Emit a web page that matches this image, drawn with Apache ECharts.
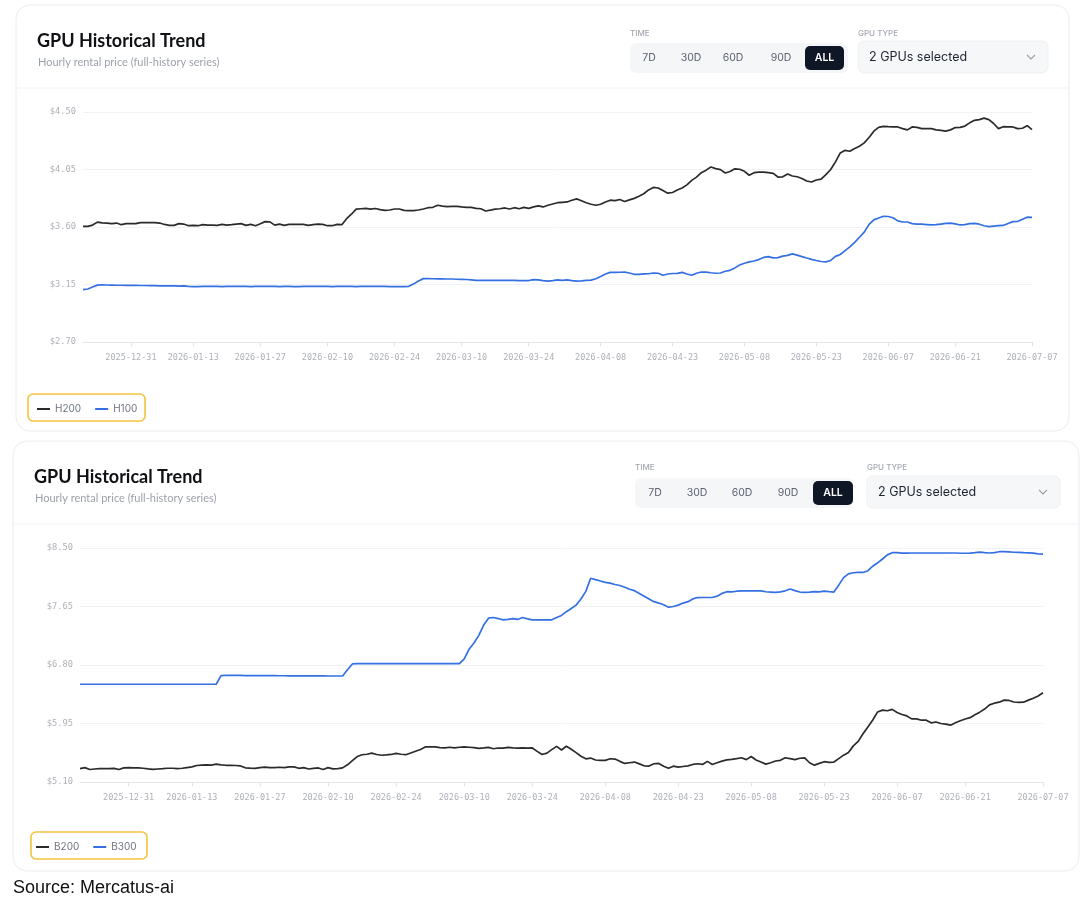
<!DOCTYPE html>
<html><head><meta charset="utf-8">
<script src="https://cdn.jsdelivr.net/npm/echarts@6/dist/echarts.min.js"></script>
<style>html,body{margin:0;padding:0;background:#fff}#c{width:1080px;height:908px}</style>
</head><body><div id="c"></div>
<script>
// ---------- data ----------
const startDate = [2025, 11, 21];   // 2025-12-21 (month is 0-based)
const dayCount = 199;               // daily points up to 2026-07-07
const tickLabels = ['2025-12-31','2026-01-13','2026-01-27','2026-02-10','2026-02-24','2026-03-10','2026-03-24',
  '2026-04-08','2026-04-23','2026-05-08','2026-05-23','2026-06-07','2026-06-21','2026-07-07'];
const seriesTop = ['H200', 'H100'];
const seriesBottom = ['B200', 'B300'];

const h200 = [
  3.605,3.605,3.615,3.638,3.632,3.631,3.626,3.631,3.618,3.626,
  3.626,3.626,3.634,3.634,3.634,3.634,3.631,3.620,3.613,3.613,
  3.626,3.623,3.610,3.613,3.610,3.618,3.615,3.615,3.613,3.620,
  3.615,3.618,3.623,3.626,3.613,3.620,3.610,3.626,3.642,3.640,
  3.615,3.623,3.613,3.620,3.620,3.620,3.620,3.613,3.618,3.623,
  3.620,3.610,3.610,3.620,3.618,3.665,3.700,3.740,3.743,3.746,
  3.740,3.745,3.736,3.730,3.733,3.741,3.741,3.730,3.728,3.728,
  3.733,3.741,3.751,3.754,3.770,3.764,3.759,3.762,3.762,3.757,
  3.754,3.754,3.746,3.743,3.725,3.732,3.740,3.743,3.749,3.741,
  3.751,3.743,3.754,3.746,3.757,3.765,3.757,3.770,3.780,3.790,
  3.793,3.796,3.809,3.820,3.806,3.790,3.778,3.770,3.778,3.795,
  3.810,3.806,3.815,3.800,3.812,3.824,3.840,3.860,3.890,3.910,
  3.905,3.885,3.865,3.870,3.890,3.905,3.930,3.965,3.990,4.025,
  4.045,4.070,4.057,4.049,4.023,4.034,4.055,4.052,4.036,4.005,
  4.025,4.030,4.030,4.025,4.020,3.991,3.993,4.015,3.999,3.993,
  3.980,3.960,3.952,3.968,3.974,4.010,4.050,4.110,4.180,4.200,
  4.193,4.215,4.232,4.258,4.300,4.350,4.380,4.388,4.385,4.383,
  4.383,4.370,4.360,4.383,4.380,4.370,4.370,4.370,4.360,4.356,
  4.350,4.360,4.378,4.380,4.390,4.415,4.435,4.440,4.452,4.440,
  4.410,4.370,4.385,4.383,4.383,4.370,4.373,4.393,4.362
];
const h100 = [
  3.110,3.115,3.130,3.145,3.147,3.146,3.145,3.144,3.144,3.143,
  3.143,3.143,3.142,3.142,3.141,3.141,3.140,3.140,3.139,3.139,
  3.138,3.139,3.136,3.134,3.134,3.135,3.135,3.136,3.135,3.134,
  3.135,3.135,3.136,3.135,3.135,3.134,3.135,3.136,3.136,3.135,
  3.135,3.134,3.135,3.135,3.134,3.134,3.135,3.135,3.136,3.136,
  3.135,3.135,3.134,3.135,3.136,3.135,3.136,3.134,3.135,3.136,
  3.135,3.136,3.135,3.135,3.134,3.134,3.134,3.134,3.136,3.155,
  3.178,3.196,3.196,3.195,3.194,3.194,3.193,3.193,3.191,3.190,
  3.189,3.186,3.183,3.182,3.182,3.182,3.182,3.182,3.182,3.182,
  3.182,3.181,3.181,3.181,3.188,3.186,3.180,3.176,3.180,3.186,
  3.183,3.186,3.180,3.176,3.178,3.182,3.184,3.195,3.212,3.232,
  3.245,3.245,3.246,3.247,3.240,3.230,3.230,3.233,3.234,3.240,
  3.238,3.222,3.232,3.236,3.237,3.245,3.232,3.222,3.238,3.248,
  3.247,3.242,3.238,3.240,3.254,3.261,3.280,3.302,3.316,3.327,
  3.334,3.345,3.362,3.368,3.358,3.360,3.372,3.378,3.390,3.380,
  3.368,3.357,3.347,3.338,3.330,3.327,3.338,3.370,3.385,3.415,
  3.445,3.480,3.520,3.560,3.620,3.656,3.670,3.684,3.682,3.672,
  3.648,3.639,3.639,3.626,3.623,3.622,3.619,3.616,3.618,3.623,
  3.628,3.631,3.625,3.616,3.618,3.627,3.628,3.622,3.610,3.603,
  3.607,3.610,3.612,3.628,3.642,3.643,3.660,3.677,3.675
];
const b200 = [
  5.294,5.309,5.282,5.289,5.294,5.294,5.294,5.299,5.282,5.305,
  5.309,5.305,5.304,5.300,5.290,5.283,5.289,5.294,5.300,5.300,
  5.295,5.300,5.310,5.319,5.340,5.345,5.350,5.345,5.360,5.350,
  5.343,5.343,5.340,5.333,5.306,5.302,5.299,5.309,5.315,5.309,
  5.309,5.314,5.309,5.319,5.319,5.299,5.309,5.289,5.299,5.304,
  5.282,5.309,5.291,5.294,5.305,5.350,5.410,5.470,5.496,5.503,
  5.520,5.500,5.489,5.493,5.500,5.515,5.503,5.497,5.522,5.547,
  5.572,5.610,5.610,5.610,5.600,5.595,5.605,5.595,5.605,5.610,
  5.605,5.600,5.588,5.595,5.603,5.583,5.594,5.591,5.603,5.597,
  5.593,5.595,5.591,5.595,5.545,5.500,5.520,5.570,5.618,5.565,
  5.620,5.575,5.527,5.475,5.437,5.448,5.420,5.413,5.415,5.438,
  5.433,5.400,5.370,5.380,5.390,5.363,5.335,5.332,5.365,5.370,
  5.330,5.300,5.330,5.315,5.325,5.335,5.355,5.365,5.355,5.400,
  5.355,5.380,5.404,5.422,5.430,5.440,5.452,5.425,5.470,5.420,
  5.390,5.360,5.380,5.405,5.415,5.452,5.440,5.425,5.445,5.450,
  5.380,5.345,5.370,5.395,5.385,5.390,5.440,5.490,5.530,5.625,
  5.690,5.800,5.900,6.000,6.118,6.144,6.135,6.155,6.110,6.080,
  6.060,6.017,6.018,5.998,5.998,5.960,5.972,5.950,5.940,5.926,
  5.960,5.989,6.015,6.035,6.078,6.115,6.160,6.220,6.245,6.260,
  6.290,6.285,6.262,6.256,6.260,6.290,6.318,6.350,6.397
];
const b300 = [
  6.520,6.520,6.520,6.520,6.520,6.520,6.520,6.520,6.520,6.520,
  6.520,6.520,6.520,6.520,6.520,6.520,6.520,6.520,6.520,6.520,
  6.520,6.520,6.520,6.520,6.520,6.520,6.520,6.520,6.520,6.645,
  6.649,6.649,6.648,6.648,6.647,6.647,6.646,6.646,6.645,6.645,
  6.645,6.644,6.644,6.643,6.643,6.642,6.642,6.642,6.641,6.641,
  6.641,6.640,6.640,6.640,6.640,6.730,6.815,6.820,6.820,6.820,
  6.820,6.820,6.820,6.820,6.820,6.820,6.820,6.820,6.820,6.820,
  6.820,6.820,6.820,6.820,6.820,6.820,6.820,6.820,6.820,6.890,
  7.030,7.120,7.230,7.380,7.480,7.490,7.475,7.456,7.462,7.475,
  7.462,7.490,7.470,7.456,7.456,7.456,7.456,7.456,7.490,7.520,
  7.575,7.620,7.670,7.760,7.870,8.060,8.040,8.020,8.000,7.990,
  7.970,7.955,7.930,7.900,7.880,7.840,7.800,7.760,7.720,7.700,
  7.675,7.640,7.650,7.670,7.700,7.720,7.760,7.780,7.781,7.781,
  7.781,7.800,7.840,7.865,7.862,7.872,7.878,7.878,7.878,7.878,
  7.878,7.864,7.859,7.854,7.862,7.878,7.905,7.880,7.860,7.854,
  7.858,7.866,7.862,7.873,7.866,7.860,7.960,8.070,8.125,8.140,
  8.145,8.145,8.170,8.235,8.285,8.340,8.400,8.432,8.432,8.425,
  8.425,8.427,8.427,8.427,8.427,8.427,8.427,8.427,8.427,8.427,
  8.427,8.424,8.424,8.425,8.432,8.440,8.432,8.427,8.432,8.446,
  8.446,8.443,8.438,8.435,8.432,8.430,8.425,8.414,8.412
];
const yTopRange = { min: 2.70, max: 4.50, step: 0.45 };
const yBottomRange = { min: 5.10, max: 8.50, step: 0.85 };

// ---------- build ----------
function buildDates() {
  const out = [];
  const t0 = Date.UTC(startDate[0], startDate[1], startDate[2]);
  for (let i = 0; i < dayCount; i++) out.push(new Date(t0 + i * 86400000).toISOString().slice(0, 10));
  return out;
}
const categories = buildDates();
const showTick = (idx, val) => tickLabels.indexOf(val) >= 0;

const DARK = '#2b2b2b', BLUE = '#3570e3';
const MONO = '"DejaVu Sans Mono", "Liberation Mono", monospace';
const UI = 'Inter, "Noto Sans", sans-serif';

function xAxis(gridIndex) {
  return {
    type: 'category', gridIndex, data: categories, boundaryGap: false,
    axisLine: { lineStyle: { color: '#e6e7ea', width: 1 } },
    axisTick: { show: true, interval: showTick, length: 4, lineStyle: { color: '#e2e3e6' } },
    axisLabel: { interval: showTick, color: '#aeb1b7', fontFamily: MONO, fontSize: 8.5, margin: 11 },
    splitLine: { show: false }
  };
}
function yAxis(gridIndex, r) {
  return {
    type: 'value', gridIndex, min: r.min, max: r.max, interval: r.step,
    axisLine: { show: false }, axisTick: { show: false },
    axisLabel: { color: '#aeb1b7', fontFamily: MONO, fontSize: 8.7, margin: 7,
      formatter: v => '$' + v.toFixed(2) },
    splitLine: { lineStyle: { color: '#f1f2f4', width: 1 } }
  };
}
function line(name, data, color, idx) {
  return { name, type: 'line', data, xAxisIndex: idx, yAxisIndex: idx, showSymbol: false, symbol: 'none',
    lineStyle: { color, width: 1.7 }, itemStyle: { color }, emphasis: { disabled: true } };
}
function txt(x, y, text, font, fill, align) {
  align = align || 'left';
  return { type: 'text', silent: true, z: 5,
    style: { x, y, text, font, fill, align, verticalAlign: 'middle', textAlign: align, textVerticalAlign: 'middle' } };
}
function rect(x, y, w, h, r, fill, stroke, lw, z) {
  return { type: 'rect', silent: true, z: z == null ? 1 : z, shape: { x, y, width: w, height: h, r },
    style: { fill: fill || 'none', stroke: stroke || 'none', lineWidth: lw || 0 } };
}
function hline(x1, x2, y, color) {
  return { type: 'line', silent: true, z: 1, shape: { x1, y1: y, x2, y2: y }, style: { stroke: color, lineWidth: 1 } };
}
function chevron(x, y) {
  return { type: 'polyline', silent: true, z: 5, shape: { points: [[x - 4, y - 2], [x, y + 2], [x + 4, y - 2]] },
    style: { stroke: '#9aa0a8', fill: 'none', lineWidth: 1.1 } };
}
function header(cardX, cardY, cardW, cardH, o) {
  const els = [];
  els.push(rect(cardX, cardY, cardW, cardH, 14, '#ffffff', '#ebecee', 1, -10));
  els.push(hline(cardX, cardX + cardW, o.sepY, '#f1f2f4'));
  els.push(txt(o.titleX, o.titleY, 'GPU Historical Trend', 'bold 18px Lato, Inter, sans-serif', '#0f1115'));
  els.push(txt(o.titleX + 1, o.subY, 'Hourly rental price (full-history series)', '11px Lato, Inter, sans-serif', '#9da2aa'));
  els.push(txt(o.grpX, o.labelY, 'TIME', '500 8px ' + UI, '#a3a8b0'));
  els.push(rect(o.grpX, o.grpY, o.grpW, 30, 6, '#f5f6f8', null, 0, 2));
  const btns = ['7D', '30D', '60D', '90D'];
  btns.forEach((b, i) => els.push(txt(o.btnX[i], o.grpY + 15, b, '10.5px ' + UI, '#5b6270', 'center')));
  els.push(rect(o.allX, o.grpY + 3, o.allW, 24, 5, '#0f1626', null, 0, 3));
  els.push(txt(o.allX + o.allW / 2, o.grpY + 15, 'ALL', '600 10.5px ' + UI, '#ffffff', 'center'));
  els.push(txt(o.ddX, o.labelY, 'GPU TYPE', '500 8px ' + UI, '#a3a8b0'));
  els.push(rect(o.ddX, o.ddY, o.ddW, 32, 6, '#f6f7f9', '#eef0f2', 1, 2));
  els.push(txt(o.ddX + 11, o.ddY + 16, '2 GPUs selected', '12.5px ' + UI, '#1d2330'));
  els.push(chevron(o.ddX + o.ddW - 17, o.ddY + 16));
  return els;
}

const graphics = [].concat(
  header(16, 5, 1053, 426, { sepY: 88, titleX: 37, titleY: 41, subY: 62, grpX: 630, labelY: 34, grpY: 43, grpW: 218,
    btnX: [649, 691, 733, 781], allX: 805, allW: 39, ddX: 858, ddY: 41, ddW: 190 }),
  header(13, 441, 1066, 430, { sepY: 524, titleX: 34, titleY: 477, subY: 498, grpX: 635, labelY: 468, grpY: 478, grpW: 218,
    btnX: [655, 697, 742, 788], allX: 813, allW: 40, ddX: 867, ddY: 476, ddW: 193 }),
  [
    rect(28, 394, 117, 27, 5, 'none', '#f4c23c', 1.6, 6),
    rect(31, 832, 116, 27, 5, 'none', '#f4c23c', 1.6, 6),
    txt(13, 888, 'Source: Mercatus-ai', '18px "Liberation Sans", Arial, sans-serif', '#111111')
  ]
);

const legendCommon = { icon: 'rect', itemWidth: 13, itemHeight: 2, itemGap: 14, orient: 'horizontal',
  textStyle: { color: '#6f7580', fontSize: 10, fontFamily: UI }, selectedMode: false };

const option = {
  animation: false,
  backgroundColor: '#ffffff',
  grid: [
    { left: 83, right: 48, top: 112, height: 230, containLabel: false },
    { left: 80, right: 37, top: 548, height: 234, containLabel: false }
  ],
  xAxis: [xAxis(0), xAxis(1)],
  yAxis: [yAxis(0, yTopRange), yAxis(1, yBottomRange)],
  legend: [
    Object.assign({ left: 32, top: 399, data: seriesTop }, legendCommon),
    Object.assign({ left: 31, top: 837, data: seriesBottom }, legendCommon)
  ],
  series: [
    line(seriesTop[0], h200, DARK, 0),
    line(seriesTop[1], h100, BLUE, 0),
    line(seriesBottom[0], b200, DARK, 1),
    line(seriesBottom[1], b300, BLUE, 1)
  ],
  graphic: { elements: graphics }
};

const chart = echarts.init(document.getElementById('c'), null, { renderer: 'canvas' });
chart.setOption(option);
</script>
</body></html>
